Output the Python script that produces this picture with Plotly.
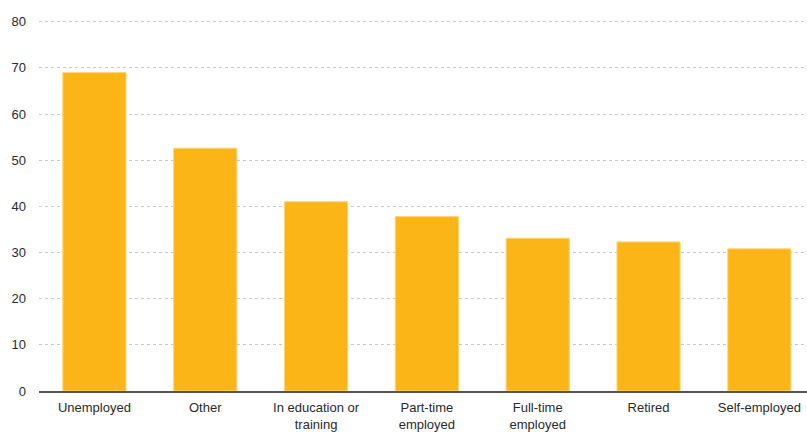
import plotly.graph_objects as go

categories = ["Unemployed", "Other", "In education or<br>training", "Part-time<br>employed",
              "Full-time<br>employed", "Retired", "Self-employed"]
values = [69.0, 52.6, 41.0, 37.8, 33.1, 32.3, 30.8]
y_ticks = [0, 10, 20, 30, 40, 50, 60, 70, 80]

fig = go.Figure(go.Bar(
    x=categories, y=values,
    marker=dict(color="#FBB517", line=dict(color="#FDD67A", width=1)),
    width=0.57,
))

fig.update_layout(
    width=807, height=432,
    margin=dict(l=39, r=0, t=18, b=41),
    paper_bgcolor="white", plot_bgcolor="white",
    font=dict(family="Liberation Sans, Arial, sans-serif", size=13, color="#2a2a2a"),
    showlegend=False,
    bargap=0.43,
)
fig.update_xaxes(
    range=[-0.5, 6.43],
    showline=True, linecolor="#555555", linewidth=1.5,
    showgrid=False, ticks="", ticklabelstandoff=4,
)
fig.update_yaxes(
    range=[0, 80.8], tickvals=y_ticks,
    showgrid=True, gridcolor="#C8C8C8", griddash="dot", gridwidth=1,
    zeroline=False, showline=False, ticks="", ticklabelstandoff=12,
)

fig.write_html("out.html")
